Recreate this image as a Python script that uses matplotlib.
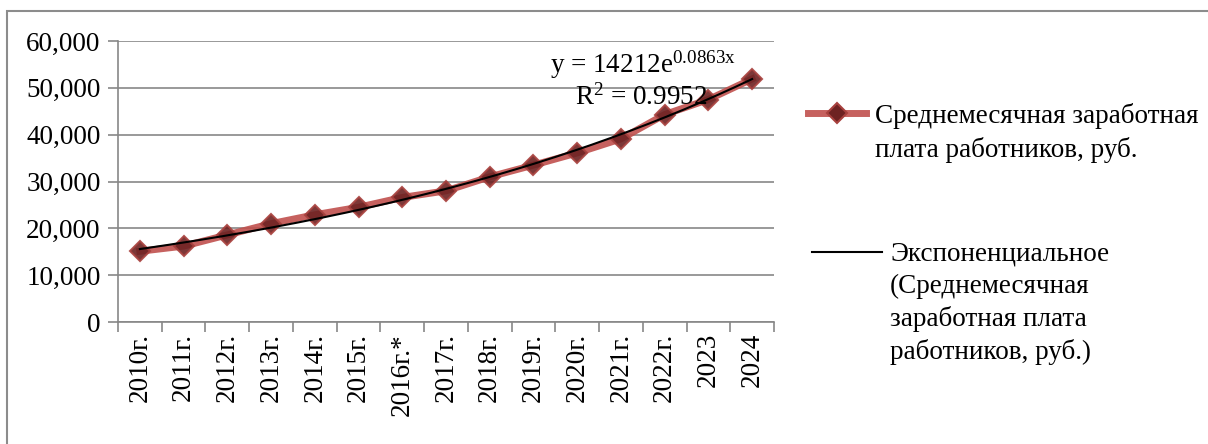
import matplotlib.pyplot as plt
import numpy as np
from matplotlib.lines import Line2D
from matplotlib.patches import Rectangle
from matplotlib.ticker import FuncFormatter

plt.rcParams["font.family"] = ["Liberation Serif", "DejaVu Serif"]
plt.rcParams["mathtext.fontset"] = "custom"
plt.rcParams["mathtext.rm"] = "Liberation Serif"
plt.rcParams["mathtext.it"] = "Liberation Serif"
plt.rcParams["mathtext.default"] = "regular"

# Data
years = ["2010г.", "2011г.", "2012г.", "2013г.", "2014г.", "2015г.", "2016г.*",
         "2017г.", "2018г.", "2019г.", "2020г.", "2021г.", "2022г.", "2023", "2024"]
salary = [15100, 16200, 18600, 21000, 22900, 24500, 26600,
          28000, 31000, 33500, 36100, 39100, 44300, 47500, 51900]

series_label = ["Среднемесячная заработная", "плата работников, руб."]
trend_label = ["Экспоненциальное", "(Среднемесячная", "заработная плата", "работников, руб.)"]
equation_text = "y = 14212e$^{0.0863x}$"
r2_text = "R$^{2}$ = 0.9952"

LINE_RED = "#C0504D"
MARK_FACE = "#6E2222"
MARK_EDGE = "#A8413E"
GRID_GRAY = "#878787"
FS = 19.5

W, H = 1208, 444


def main() -> None:
    fig = plt.figure(figsize=(W / 100, H / 100), dpi=100)
    ax = fig.add_axes([118 / W, 1 - 322 / H, (774 - 118) / W, (322 - 41) / H])

    x = np.arange(1, len(years) + 1)

    # exponential trendline fitted to the series (Excel-style)
    b, ln_a = np.polyfit(x, np.log(salary), 1)
    xs = np.linspace(1, len(years), 200)
    trend = np.exp(ln_a) * np.exp(b * xs)

    ax.plot(x, salary, color=LINE_RED, lw=5, alpha=0.9, marker="D",
            markersize=10, markerfacecolor=MARK_FACE, markeredgecolor=MARK_EDGE,
            markeredgewidth=1.5, zorder=3, solid_joinstyle="round")
    ax.plot(xs, trend, color="black", lw=1.5, zorder=4)

    ax.set_xlim(0.5, len(years) + 0.5)
    ax.set_ylim(0, 60000)
    ax.set_yticks(np.arange(0, 60001, 10000))
    ax.yaxis.set_major_formatter(FuncFormatter(lambda v, p: f"{int(v):,}"))
    ax.grid(axis="y", color=GRID_GRAY, lw=1.2)
    ax.set_axisbelow(True)

    ax.set_xticks(x)
    ax.set_xticklabels(years, rotation=90, va="top", ha="center")
    ax.set_xticks(np.arange(0.5, len(years) + 1), minor=True)
    ax.tick_params(axis="x", which="major", length=0, pad=8, labelsize=FS)
    ax.tick_params(axis="x", which="minor", length=7.5, width=1.2, color=GRID_GRAY)
    ax.tick_params(axis="y", length=7.5, width=1.2, color=GRID_GRAY, pad=5, labelsize=FS)

    for side in ("top", "right"):
        ax.spines[side].set_visible(False)
    for side in ("left", "bottom"):
        ax.spines[side].set_color(GRID_GRAY)
        ax.spines[side].set_linewidth(1.2)

    # trendline equation
    ax.text(0.800, 0.886, equation_text, transform=ax.transAxes, ha="center",
            va="baseline", fontsize=FS, zorder=5)
    ax.text(0.797, 0.772, r2_text, transform=ax.transAxes, ha="center",
            va="baseline", fontsize=FS, zorder=5)

    # legend drawn by hand (Excel puts the key beside the first line)
    y1 = 1 - 113 / H
    fig.add_artist(Line2D([808 / W, 866 / W], [y1, y1], color=LINE_RED, lw=5,
                          alpha=0.9, transform=fig.transFigure))
    fig.add_artist(Line2D([837 / W], [y1], marker="D", markersize=10,
                          markerfacecolor=MARK_FACE, markeredgecolor=MARK_EDGE,
                          markeredgewidth=1.5, transform=fig.transFigure))
    for i, line in enumerate(series_label):
        fig.text(875 / W, 1 - (123 + 34 * i) / H, line, fontsize=FS,
                 va="baseline", ha="left")

    y2 = 1 - 252 / H
    fig.add_artist(Line2D([812 / W, 882 / W], [y2, y2], color="black", lw=1.5,
                          transform=fig.transFigure))
    for i, line in enumerate(trend_label):
        fig.text(890 / W, 1 - (260 + 33 * i) / H, line, fontsize=FS,
                 va="baseline", ha="left")

    # outer chart border
    fig.add_artist(Rectangle((7 / W, -0.1), 1.2, 1.1 - 11 / H, fill=False,
                             edgecolor="#8C8C8C", lw=1.5, transform=fig.transFigure))

    fig.savefig("out.png", dpi=100)


if __name__ == "__main__":
    main()
